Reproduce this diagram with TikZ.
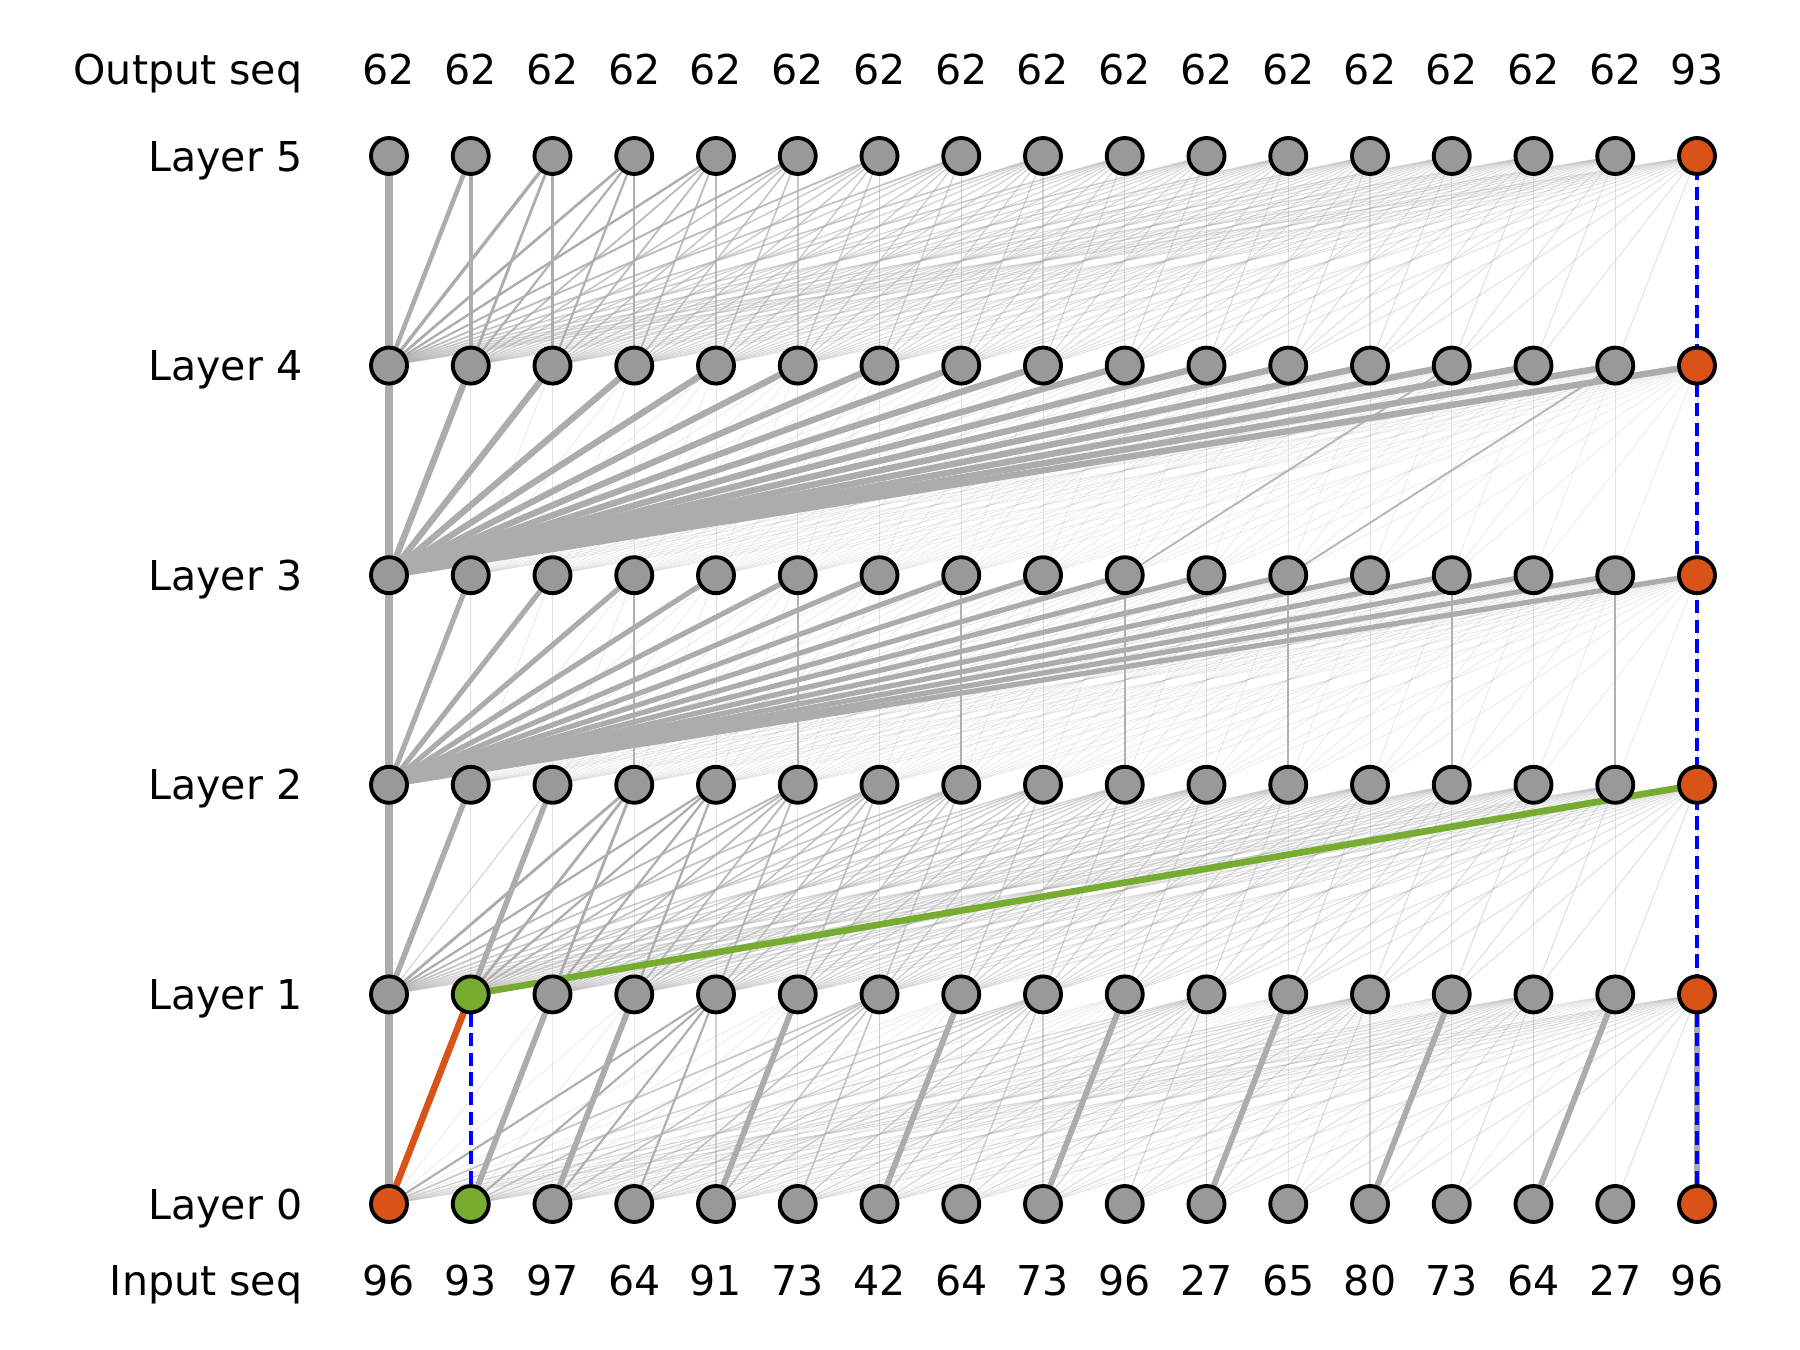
\documentclass[tikz,border=0pt]{standalone}
\usepackage{fontspec}
\setmainfont{DejaVu Sans}
\usetikzlibrary{positioning,backgrounds}
\definecolor{unitgray}{RGB}{153,153,153}
\definecolor{attngray}{RGB}{172,172,172}
\definecolor{pathorange}{RGB}{217,83,25}
\definecolor{pathgreen}{RGB}{119,172,48}

% attention weight from unit #3 of layer #1 to unit #2 of layer #1+1
\newcommand{\attnweight}[3]{%
  \ifcase#1\relax
    \pgfmathsetmacro\aw{(#2==0) ? 1 : ( ((#3==#2-1) && ((#2<4) || isodd(#2))) ? 0.8 : ( ((#2==16) && (#3==16)) ? 0.8 : ( (iseven(#2) && (#2>3)) ? ((#3==#2) ? 0.12 : 1.0/max(#2,1)) : 0.025 ) ) )}%
  \or
    \pgfmathsetmacro\aw{(#2==0) ? 1 : ( ((#2<3) && (#3==#2-1)) ? 0.75 : ( (#3==#2) ? 0.05 : ( (#2<3) ? 0.1 : 1.05/max(#2,1) ) ) )}%
  \or
    \pgfmathsetmacro\aw{(#3==0) ? ((#2==0) ? 1 : 0.7) : ( (#3==#2) ? ((isodd(#2) && (#2>2)) ? 0.25 : 0.06) : 0.03 )}%
  \or
    \pgfmathsetmacro\aw{(#3==0) ? ((#2==0) ? 1 : 0.88) : ( (((#2==13) && (#3==9)) || ((#2==15) && (#3==11))) ? 0.22 : ((#3==#2) ? 0.04 : 0.025) )}%
  \else
    \pgfmathsetmacro\aw{(#3==0) ? min(1, 1.5/(#2+1.5)) : 1/(#2+1)}%
  \fi
  \pgfmathsetmacro\lw{0.15 + 1.9*\aw}%
  \pgfmathsetmacro\op{min(1, 0.2 + 3*\aw)}%
}

\begin{document}
\begin{tikzpicture}[
    font=\fontsize{11.7}{14}\selectfont,
    unit/.style={circle, draw=black, line width=1.1pt, fill=unitgray, minimum size=0.36cm, inner sep=0pt},
    attn/.style={draw=attngray, line cap=round},
    hlpath/.style={line width=1.9pt},
    trace/.style={draw=blue, line width=1.1pt, dash pattern=on 3.8pt off 1.8pt},
    seqtext/.style={inner sep=0pt, text height=1.6ex, text depth=0.4ex},
    rowlabel/.style={seqtext, anchor=east}]
  \useasboundingbox (0,0) rectangle (18,13.5);

  % units
  \foreach \l in {0,...,5}
    \foreach \i in {0,...,16} {
      \def\ufill{unitgray}
      \ifnum\i=16 \def\ufill{pathorange}\fi
      \ifnum\l=0 \ifnum\i=0 \def\ufill{pathorange}\fi\fi
      \ifnum\l<2 \ifnum\i=1 \def\ufill{pathgreen}\fi\fi
      \node[unit, fill=\ufill] (n\l-\i) at ({3.89+0.8175*\i}, {1.46+2.096*\l}) {};
    }

  % labels
  \foreach \l in {0,...,5}
    \node[rowlabel, left=0.66cm of n\l-0, yshift=-1pt] (lab\l) {Layer \l};
  \foreach \t [count=\c from 0] in {62,62,62,62,62,62,62,62,62,62,62,62,62,62,62,62,93}
    \node[seqtext, above=0.43cm of n5-\c] (out\c) {\t};
  \foreach \t [count=\c from 0] in {96,93,97,64,91,73,42,64,73,96,27,65,80,73,64,27,96}
    \node[seqtext, below=0.40cm of n0-\c] (in\c) {\t};
  \node[rowlabel] (outlab) at (lab5.east |- out0) {Output seq};
  \node[rowlabel] (inlab) at (lab0.east |- in0) {Input seq};

  % attention connections
  \begin{scope}[on background layer]
    \foreach \l [evaluate=\l as \u using int(\l+1)] in {0,...,4}
      \foreach \i in {0,...,16}
        \foreach \j in {0,...,\i} {
          \attnweight{\l}{\i}{\j}
          \draw[attn, line width=\lw pt, draw opacity=\op] (n\l-\j) -- (n\u-\i);
        }
    \draw[hlpath, pathorange] (n0-0) -- (n1-1);
    \draw[hlpath, pathgreen] (n1-1) -- (n2-16);
    \draw[trace] (n0-1) -- (n1-1);
    \draw[trace] (n0-16) -- (n5-16);
  \end{scope}
\end{tikzpicture}
\end{document}
